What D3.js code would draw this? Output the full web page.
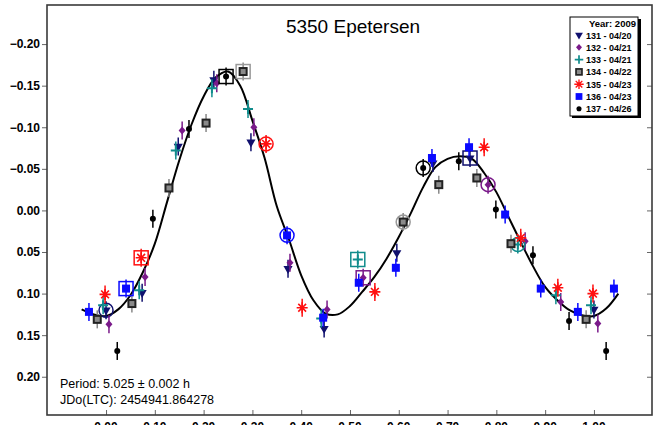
<!DOCTYPE html>
<html>
<head>
<meta charset="utf-8">
<script src="https://cdn.jsdelivr.net/npm/d3@7"></script>
<style>
  body { margin: 0; background: #fff; }
  svg { display: block; font-family: Arial, "Liberation Sans", sans-serif; }
</style>
</head>
<body>
<div id="chart"></div>
<script>
// sessions shown in the legend
const sessions = ["131 - 04/20", "132 - 04/21", "133 - 04/21", "134 - 04/22", "135 - 04/23", "136 - 04/23", "137 - 04/26"];

// phase / magnitude per session
const phase131 = [0.000, 0.074, 0.148, 0.221, 0.297, 0.373, 0.447, 0.596, 0.670, 0.746, 1.000];
const mag131   = [0.120, 0.099, -0.077, -0.157, -0.082, 0.070, 0.142, 0.051, -0.057, -0.063, 0.119];

const phase132 = [0.006, 0.080, 0.156, 0.227, 0.303, 0.377, 0.453, 0.527, 0.783, 0.859, 0.932, 1.008];
const mag132   = [0.137, 0.080, -0.096, -0.153, -0.100, 0.063, 0.119, 0.081, -0.031, 0.037, 0.110, 0.136];

const phase133 = [-0.006, 0.068, 0.143, 0.217, 0.291, 0.441, 0.516, 0.844, 0.922, 0.994];
const mag133   = [0.114, 0.096, -0.072, -0.147, -0.122, 0.130, 0.059, 0.041, 0.102, 0.114];

const phase134 = [-0.018, 0.053, 0.129, 0.205, 0.281, 0.609, 0.682, 0.760, 0.830, 0.984];
const mag134   = [0.131, 0.112, -0.027, -0.105, -0.167, 0.014, -0.031, -0.039, 0.040, 0.131];

const phase135 = [-0.002, 0.072, 0.328, 0.402, 0.551, 0.775, 0.850, 0.926, 0.998];
const mag135   = [0.101, 0.057, -0.080, 0.117, 0.098, -0.076, 0.033, 0.093, 0.100];

const phase136 = [-0.035, 0.041, 0.371, 0.445, 0.518, 0.594, 0.668, 0.744, 0.818, 0.891, 0.967, 1.041];
const mag136   = [0.122, 0.094, 0.030, 0.129, 0.087, 0.069, -0.063, -0.076, 0.005, 0.094, 0.122, 0.094];

const phase137 = [0.023, 0.096, 0.170, 0.246, 0.650, 0.723, 0.799, 0.875, 0.949, 1.025];
const mag137   = [0.169, 0.010, -0.098, -0.161, -0.051, -0.059, -0.001, 0.054, 0.133, 0.169];

// index of the point marked with a box / a ring in each session
const boxPoint  = [9, 7, 6, 4, 1, 1, 3];
const ringPoint = [0, 8, 7, 5, 2, 2, 4];

// fitted curve
const curvePhase = [-0.05, -0.025, 0.0, 0.025, 0.05, 0.075, 0.1, 0.125, 0.15, 0.175, 0.2, 0.225, 0.25, 0.275, 0.3, 0.325, 0.35, 0.375, 0.4, 0.425, 0.45, 0.475, 0.5, 0.525, 0.55, 0.575, 0.6, 0.625, 0.65, 0.675, 0.7, 0.725, 0.75, 0.775, 0.8, 0.825, 0.85, 0.875, 0.9, 0.925, 0.95, 0.975, 1.0, 1.025, 1.05];
const curveMag   = [0.119, 0.125, 0.127, 0.119, 0.102, 0.075, 0.040, -0.010, -0.060, -0.103, -0.137, -0.160, -0.167, -0.150, -0.108, -0.063, -0.005, 0.035, 0.078, 0.108, 0.124, 0.125, 0.115, 0.098, 0.080, 0.058, 0.032, 0.003, -0.028, -0.052, -0.062, -0.065, -0.062, -0.045, -0.022, 0.008, 0.038, 0.067, 0.092, 0.108, 0.120, 0.126, 0.127, 0.118, 0.100];

const yTicks = [-0.20, -0.15, -0.10, -0.05, 0.00, 0.05, 0.10, 0.15, 0.20];
const xTicks = [0.0, 0.1, 0.2, 0.3, 0.4, 0.5, 0.6, 0.7, 0.8, 0.9, 1.0];

const phases = [phase131, phase132, phase133, phase134, phase135, phase136, phase137];
const mags = [mag131, mag132, mag133, mag134, mag135, mag136, mag137];
const colors = ["#10106e", "#7a1a8a", "#108c8c", "#555555", "#ff1010", "#0a0aff", "#000000"];
const kinds = ["tri", "diamond", "plus", "graysq", "star", "square", "dot"];

const width = 661, height = 425;
const plotLeft = 47, plotRight = 652, plotTop = 5, plotBottom = 415;

const svg = d3.select("#chart").append("svg")
    .attr("width", width)
    .attr("height", height);

const x = d3.scaleLinear().domain([-0.121, 1.119]).range([plotLeft, plotRight]);
const y = d3.scaleLinear().domain([-0.247, 0.246]).range([plotTop, plotBottom]);

// title
svg.append("text")
    .attr("x", 353).attr("y", 33)
    .attr("text-anchor", "middle")
    .style("font-size", "19px")
    .text("5350 Epetersen");

// y axis (ticks outside) and right axis ticks (inside)
svg.append("g")
    .attr("transform", `translate(${plotLeft},0)`)
    .call(d3.axisLeft(y).tickValues(yTicks).tickSize(5).tickPadding(2).tickFormat(d3.format(".2f")))
    .call(g => g.select(".domain").remove())
    .call(g => g.selectAll("line").attr("stroke", "#666"))
    .call(g => g.selectAll("text").style("font-size", "12px").style("font-weight", "bold").attr("fill", "#000"));

svg.append("g")
    .attr("transform", `translate(${plotRight},0)`)
    .call(d3.axisLeft(y).tickValues(yTicks).tickSize(5).tickFormat(""))
    .call(g => g.select(".domain").remove())
    .call(g => g.selectAll("line").attr("x2", -5).attr("stroke", "#666"));

// x axis, ticks pointing in; labels sit at the lower edge as in the original
svg.append("g")
    .attr("transform", `translate(0,${plotBottom})`)
    .call(d3.axisTop(x).tickValues(xTicks).tickSize(5).tickFormat(""))
    .call(g => g.select(".domain").remove())
    .call(g => g.selectAll("line").attr("stroke", "#666"));

svg.append("g")
    .selectAll("text")
    .data(xTicks)
    .enter()
    .append("text")
    .attr("x", d => x(d))
    .attr("y", 431)
    .attr("text-anchor", "middle")
    .style("font-size", "12px")
    .style("font-weight", "bold")
    .text(d => d3.format(".2f")(d));

// frame
svg.append("rect")
    .attr("x", plotLeft).attr("y", plotTop)
    .attr("width", plotRight - plotLeft).attr("height", plotBottom - plotTop)
    .attr("fill", "none")
    .attr("stroke", "#3a3a3a")
    .attr("stroke-width", 1.6);

// fit curve
const line = d3.line()
    .x((d, i) => x(curvePhase[i]))
    .y(d => y(d))
    .curve(d3.curveCatmullRom);

svg.append("path")
    .datum(curveMag)
    .attr("d", line)
    .attr("fill", "none")
    .attr("stroke", "#000")
    .attr("stroke-width", 2);

// marker drawing
function drawMarker(g, kind, color) {
    if (kind === "tri") {
        g.append("path").attr("d", d3.symbol(d3.symbolTriangle, 36)())
            .attr("transform", "rotate(180)").attr("fill", color);
    } else if (kind === "diamond") {
        g.append("path").attr("d", "M0,-4L3.5,0L0,4L-3.5,0Z").attr("fill", color);
    } else if (kind === "plus") {
        g.append("path").attr("d", "M-5,0H5M0,-5V5")
            .attr("stroke", color).attr("stroke-width", 2);
    } else if (kind === "graysq") {
        g.append("rect").attr("x", -3.5).attr("y", -3.5).attr("width", 7).attr("height", 7)
            .attr("fill", "#8a8a8a").attr("stroke", "#222").attr("stroke-width", 2);
    } else if (kind === "star") {
        const arms = d3.range(8).map(k => {
            const a = k * Math.PI / 4;
            return `M0,0L${(5.5 * Math.cos(a)).toFixed(2)},${(5.5 * Math.sin(a)).toFixed(2)}`;
        }).join("");
        g.append("path").attr("d", arms).attr("stroke", color).attr("stroke-width", 1.6);
    } else if (kind === "square") {
        g.append("rect").attr("x", -4).attr("y", -4).attr("width", 8).attr("height", 8)
            .attr("fill", color);
    } else {
        g.append("circle").attr("r", 3).attr("fill", color);
    }
}

const marks = svg.append("g");

phases.forEach((ph, s) => {
    const color = colors[s];
    const ringColor = s === 3 ? "#999" : color;
    ph.forEach((p, i) => {
        const g = marks.append("g")
            .attr("transform", `translate(${x(p)},${y(mags[s][i])})`);
        // error bar
        g.append("line")
            .attr("y1", -9).attr("y2", 9)
            .attr("stroke", s === 3 ? "#888" : color)
            .attr("stroke-width", 1.5);
        if (i === boxPoint[s]) {
            g.append("rect").attr("x", -7).attr("y", -7).attr("width", 14).attr("height", 14)
                .attr("fill", "none").attr("stroke", ringColor).attr("stroke-width", 1.5);
        }
        if (i === ringPoint[s]) {
            g.append("circle").attr("r", 7)
                .attr("fill", "none").attr("stroke", ringColor).attr("stroke-width", 1.5);
        }
        drawMarker(g, kinds[s], color);
    });
});

// info text
svg.append("text").attr("x", 60).attr("y", 388)
    .style("font-size", "12.5px").text("Period: 5.025 \u00b1 0.002 h");
svg.append("text").attr("x", 60).attr("y", 404)
    .style("font-size", "12.5px").text("JDo(LTC): 2454941.864278");

// legend
const legend = svg.append("g");
legend.append("rect")
    .attr("x", 572).attr("y", 19).attr("width", 69).attr("height", 99)
    .attr("fill", "#000");
legend.append("rect")
    .attr("x", 570).attr("y", 17).attr("width", 68).attr("height", 99)
    .attr("fill", "#fff").attr("stroke", "#000").attr("stroke-width", 1);
legend.append("text")
    .attr("x", 636).attr("y", 27)
    .attr("text-anchor", "end")
    .style("font-size", "9.5px").style("font-weight", "bold")
    .text("Year: 2009");

sessions.forEach((name, s) => {
    const cy = 35 + s * 12.3;
    const g = legend.append("g").attr("transform", `translate(579,${cy}) scale(0.85)`);
    drawMarker(g, kinds[s], colors[s]);
    legend.append("text")
        .attr("x", 586).attr("y", cy + 3.5)
        .style("font-size", "9px")
        .style("font-weight", "bold")
        .text(name);
});
</script>
</body>
</html>
